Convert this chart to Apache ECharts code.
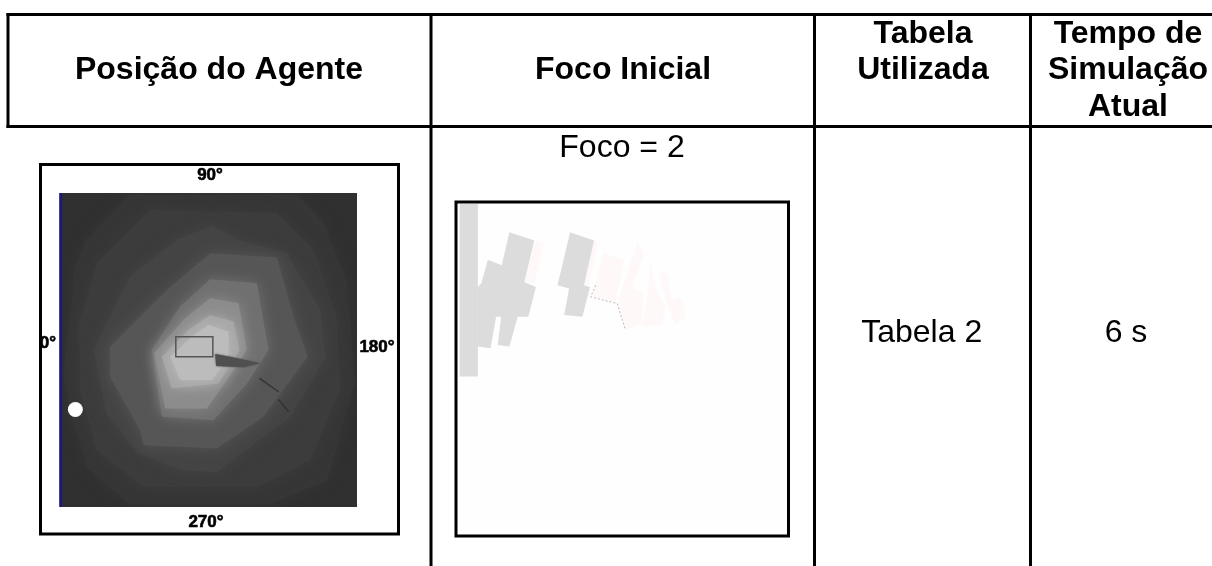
<!DOCTYPE html>
<html><head><meta charset="utf-8">
<style>html,body{margin:0;padding:0;background:#fff}#c{width:1212px;height:566px}</style>
<script src="https://cdn.jsdelivr.net/npm/echarts@6/dist/echarts.min.js"></script>
</head><body><div id="c"></div>
<script>
// ---- table text ----
const headers = [['Posição do Agente'],['Foco Inicial'],['Tabela','Utilizada'],['Tempo de','Simulação','Atual']];
const focoLabel = 'Foco = 2';
const tabelaValue = 'Tabela 2';
const tempoValue = '6 s';
const angleLabels = ['90°','0°','180°','270°'];

// ---- left panel: intensity bands, outermost first (panel units) ----
const bandGreys = ['#303030','#363636','#3c3c3c','#444444','#565656','#707070','#8c8c8c','#a6a6a6','#bcbcbc'];
const bands = [
 [[90,130],[980,130],[980,1070],[90,1070]],
 [[300,135],[800,135],[880,220],[950,400],[975,700],[890,990],[720,1062],[300,1062],[170,950],[125,800],[100,680],[135,350],[170,270]],
 [[360,180],[740,190],[850,300],[920,500],[930,720],[840,930],[680,1010],[340,1010],[200,900],[150,720],[145,530],[200,340]],
 [[545,228],[625,270],[770,310],[870,480],[885,625],[780,800],[560,965],[450,960],[320,905],[230,790],[190,600],[300,380],[440,270]],
 [[540,310],[740,322],[790,500],[832,620],[700,800],[560,895],[340,885],[330,840],[240,680],[240,590],[400,430]],
 [[540,388],[680,400],[715,600],[650,700],[550,810],[395,800],[365,600],[450,470]],
 [[540,445],[625,460],[650,600],[590,690],[530,775],[405,775],[372,610],[465,505]],
 [[540,495],[610,515],[628,600],[565,700],[425,715],[395,620],[475,540]],
 [[535,525],[595,545],[595,625],[545,690],[450,690],[420,620],[485,560]]
];
const zoneRect = [[437,560],[548,560],[548,620],[437,620]];
const arrowShape = [[555,612],[600,620],[690,640],[640,652],[558,648]];
const traces = [[[688,685],[745,725]],[[745,748],[775,785]]];
const agentDot = [[136,778]];
const leftEdge = [[92,130],[92,1070]];

// ---- right panel: footprint shapes (panel units) ----
const greyShapes = [
 [[55,40],[110,40],[110,560],[55,560]],
 [[205,125],[280,150],[250,275],[285,290],[262,380],[230,380],[205,470],[170,465],[180,380],[165,380],[148,475],[110,470],[110,290],[120,280],[140,208],[182,225]],
 [[388,125],[460,150],[430,285],[448,290],[425,380],[370,375],[385,295],[350,285]]
];
const pinkShapes = [
 [[285,150],[310,158],[280,280],[250,275]],
 [[460,150],[472,155],[445,285],[430,285]],
 [[488,188],[552,208],[525,335],[455,318]],
 [[590,155],[612,190],[575,290],[610,310],[605,400],[555,420],[530,340]],
 [[630,215],[650,310],[675,345],[665,405],[605,410],[620,330]],
 [[655,240],[680,250],[695,330],[720,320],[738,380],[705,405],[680,340]]
];
const focusPath = [[465,285],[450,320],[530,340],[555,420]];

const chart = echarts.init(document.getElementById('c'), null, {renderer:'canvas'});
const ink = '#000';
const F = '"Liberation Sans", Arial, sans-serif';

function polySeries(gridIdx, items, renderer, z){
  return {type:'custom', coordinateSystem:'cartesian2d', xAxisIndex:gridIdx, yAxisIndex:gridIdx, z:z||2, silent:true,
    clip:true, data:items.map((_,i)=>[i]), renderItem:renderer, animation:false};
}
function filled(items, colorOf, blur){
  return (p,api)=>{
    const pts = items[p.dataIndex].map(q=>api.coord(q));
    const c = colorOf(p.dataIndex);
    return {type:'polygon', shape:{points:pts}, style:{fill:c, shadowBlur:blur||0, shadowColor:c}};
  };
}
function stroked(items, color, w, close, dash){
  return (p,api)=>{
    const pts = items[p.dataIndex].map(q=>api.coord(q));
    return {type:close?'polygon':'polyline', shape:{points:pts}, style:{fill:'none', stroke:color, lineWidth:w, lineDash:dash||null}};
  };
}

const axis = (min,max,inv,gi)=>({type:'value',min,max,inverse:inv,gridIndex:gi,show:false});
const txt = (x,y,t,font,extra)=>({type:'text',x,y,silent:true,style:Object.assign({text:t,font,fill:ink,align:'center',verticalAlign:'middle'},extra||{})});
const rule = (x1,y1,x2,y2)=>({type:'line',silent:true,shape:{x1,y1,x2,y2},style:{stroke:ink,lineWidth:3}});
const bold = 'bold 32px '+F, reg = '32px '+F, tick = 'bold 17px '+F;
const tickStyle = {stroke:'#000',lineWidth:0.6,shadowBlur:2,shadowColor:'#000'};

const graphicEls = [
  rule(6.5,14.5,1212,14.5), rule(6.5,126.5,1212,126.5),
  rule(8,13,8,128), rule(431,13,431,566), rule(814.5,13,814.5,566), rule(1030.5,13,1030.5,566),
  {type:'rect',silent:true,shape:{x:40.5,y:164.5,width:358,height:369.5},style:{fill:'none',stroke:ink,lineWidth:3}},
  {type:'rect',silent:true,shape:{x:456,y:202,width:332.5,height:334},style:{fill:'none',stroke:ink,lineWidth:3}},
  txt(219,70,headers[0][0],bold), txt(623,70,headers[1][0],bold),
  txt(923,34,headers[2][0],bold), txt(923,70,headers[2][1],bold),
  txt(1128,34,headers[3][0],bold), txt(1128,70,headers[3][1],bold), txt(1128,107,headers[3][2],bold),
  txt(622,148,focoLabel,reg), txt(921.7,333,tabelaValue,reg), txt(1126,333,tempoValue,reg),
  txt(210,175,angleLabels[0],tick,tickStyle), txt(48,343,angleLabels[1],tick,tickStyle),
  txt(377,347,angleLabels[2],tick,tickStyle), txt(206,522,angleLabels[3],tick,tickStyle)
];

chart.setOption({
  animation:false,
  backgroundColor:'#fff',
  grid:[
    {left:60,top:193,width:297,height:314,show:false},
    {left:458,top:204,width:330,height:332,show:true,borderWidth:0,backgroundColor:'#fefefe'}
  ],
  xAxis:[axis(90,980,false,0),axis(50,1045,false,1)],
  yAxis:[axis(130,1070,true,0),axis(40,1041,true,1)],
  series:[
    polySeries(0,bands,filled(bands,i=>bandGreys[i],14),2),
    polySeries(0,[zoneRect],stroked([zoneRect],'#555',1.5,true),4),
    polySeries(0,[arrowShape],filled([arrowShape],()=>'#505050',2),4),
    polySeries(0,traces,stroked(traces,'#333',1.5,false),4),
    {type:'scatter',xAxisIndex:0,yAxisIndex:0,data:agentDot,symbol:'circle',symbolSize:15,silent:true,itemStyle:{color:'#fff',opacity:1},z:5},
    {type:'line',xAxisIndex:0,yAxisIndex:0,data:leftEdge,symbol:'none',silent:true,lineStyle:{color:'#1c1c78',width:3},z:5},
    polySeries(1,greyShapes,filled(greyShapes,()=>'#dcdcdc'),3),
    polySeries(1,pinkShapes,filled(pinkShapes,()=>'#fff8f8'),2),
    polySeries(1,[focusPath],stroked([focusPath],'#bbbbbb',1,false,[2,2]),4)
  ],
  graphic:{elements:graphicEls}
});
</script></body></html>
